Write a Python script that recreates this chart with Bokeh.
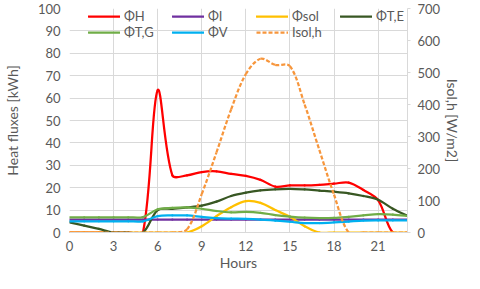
import math
from bokeh.plotting import figure
from bokeh.models import Range1d, LinearAxis, Legend, LegendItem, FixedTicker
from bokeh.embed import file_html
from bokeh.resources import INLINE

# ---- data (hourly values) ----
hours = list(range(24))
phi_H = [0, 0, 0, 0, 0, 0, 63.5, 25.5, 25.5, 27, 27.3, 26.2, 25.3, 23.5, 20.5, 21, 21, 21.3, 21.8, 22.3, 19, 14.5, 0, 0]
phi_I = [5.8, 5.8, 5.8, 5.8, 5.8, 5.8, 5.8, 5.8, 5.8, 5.8, 5.8, 5.8, 5.8, 5.8, 5.8, 5.8, 5.8, 5.8, 5.8, 5.8, 5.8, 5.8, 5.8, 5.8]
phi_sol = [0, 0, 0, 0, 0, 0, 0, 0, 0, 2.8, 7.3, 11.3, 14.0, 13.2, 10.0, 7.0, 2.8, 0, 0, 0, 0, 0, 0, 0]
phi_TE = [4.5, 3.1, 1.6, 0, 0, 0, 10, 10.6, 11.2, 12.0, 13.8, 16.3, 17.8, 18.8, 19.3, 19.5, 19.2, 18.7, 18.2, 17.5, 16.3, 14.6, 10.6, 7.4]
phi_TG = [6.8, 6.8, 6.8, 6.8, 6.8, 6.9, 10.4, 11.0, 11.2, 10.6, 9.6, 9.0, 9.2, 8.8, 7.8, 7.1, 6.6, 6.4, 6.5, 7.0, 7.6, 8.2, 8.0, 7.4]
phi_V = [5.0, 5.0, 5.0, 5.0, 5.0, 5.0, 7.3, 7.6, 7.6, 7.0, 6.4, 6.2, 6.1, 5.8, 5.3, 4.8, 4.2, 4.2, 4.5, 4.9, 5.3, 5.4, 5.4, 5.4]
isol_h = [0, 0, 0, 0, 0, 0, 0, 0, 10, 120, 250, 385, 495, 543, 524, 520, 400, 258, 118, 0, 0, 0, 0, 0]

x_ticks = [0, 3, 6, 9, 12, 15, 18, 21]
y_ticks = [0, 10, 20, 30, 40, 50, 60, 70, 80, 90, 100]
y2_ticks = [0, 100, 200, 300, 400, 500, 600, 700]

FONT = "Lato"
TXT = "#595959"
GRID = "#D9D9D9"

p = figure(width=464, height=273, output_backend="svg", toolbar_location=None,
           x_range=Range1d(0, 23), y_range=Range1d(0, 100),
           min_border_left=69, min_border_right=51, min_border_top=8, min_border_bottom=40)
p.extra_y_ranges = {"isol": Range1d(0, 700)}
p.outline_line_color = None
p.background_fill_color = "white"
p.border_fill_color = "white"

# grids
p.xgrid.ticker = FixedTicker(ticks=x_ticks)
p.ygrid.ticker = FixedTicker(ticks=y_ticks)
p.xgrid.grid_line_color = GRID
p.ygrid.grid_line_color = GRID

# axes
xa = p.xaxis[0]
xa.ticker = FixedTicker(ticks=x_ticks)
xa.axis_label = "Hours"
ya = p.yaxis[0]
ya.ticker = FixedTicker(ticks=y_ticks)
ya.axis_label = "Heat fluxes [kWh]"
ra = LinearAxis(y_range_name="isol", ticker=FixedTicker(ticks=y2_ticks), axis_label="Isol,h [W/m2]")
p.add_layout(ra, "right")

for ax in (xa, ya, ra):
    ax.major_label_text_font = FONT
    ax.major_label_text_font_size = "13px"
    ax.major_label_text_color = TXT
    ax.axis_label_text_font = FONT
    ax.axis_label_text_font_size = "14px"
    ax.axis_label_text_color = TXT
    ax.axis_label_text_font_style = "normal"
    ax.minor_tick_line_color = None
    ax.major_tick_in = 0

xa.major_tick_out = 0
xa.axis_line_color = GRID
xa.major_label_standoff = 8
xa.axis_label_standoff = 0

ya.major_tick_out = 0
ya.axis_line_color = None
ya.major_label_standoff = 9
ya.axis_label_standoff = 14

ra.major_tick_out = 3
ra.major_tick_line_color = GRID
ra.axis_line_color = GRID
ra.major_label_standoff = 7
ra.axis_label_standoff = 1

# approximate pixel scale of the frame, used only to shape the smoothed curves
PX_X = 345 / 23.0
FRAME_H = 225.0


def smooth_segments(xs, ys, px_y):
    """Bezier control points for a smoothed line (chord-length weighted, as Excel)."""
    n = len(xs)
    P = [(xs[i] * PX_X, ys[i] * px_y) for i in range(n)]
    L = [math.hypot(P[i + 1][0] - P[i][0], P[i + 1][1] - P[i][1]) for i in range(n - 1)]
    D = []
    for i in range(n):
        a = P[max(i - 1, 0)]
        b = P[min(i + 1, n - 1)]
        D.append((b[0] - a[0], b[1] - a[1]))
    seg = {k: [] for k in ("x0", "y0", "x1", "y1", "cx0", "cy0", "cx1", "cy1")}
    for i in range(n - 1):
        lp = L[i - 1] if i > 0 else L[i]
        ln = L[i + 1] if i + 1 < n - 1 else L[i]
        f0 = (L[i] / (lp + L[i]) / 3.0) if (lp + L[i]) > 0 else 0.0
        f1 = (L[i] / (L[i] + ln) / 3.0) if (L[i] + ln) > 0 else 0.0
        seg["x0"].append(xs[i]); seg["y0"].append(ys[i])
        seg["x1"].append(xs[i + 1]); seg["y1"].append(ys[i + 1])
        seg["cx0"].append((P[i][0] + D[i][0] * f0) / PX_X)
        seg["cy0"].append((P[i][1] + D[i][1] * f0) / px_y)
        seg["cx1"].append((P[i + 1][0] - D[i + 1][0] * f1) / PX_X)
        seg["cy1"].append((P[i + 1][1] - D[i + 1][1] * f1) / px_y)
    return seg


series = [
    ("ΦH", phi_H, "#FF0000", None, "default"),
    ("ΦI", phi_I, "#7030A0", None, "default"),
    ("Φsol", phi_sol, "#FFC000", None, "default"),
    ("ΦT,E", phi_TE, "#385723", None, "default"),
    ("ΦT,G", phi_TG, "#70AD47", None, "default"),
    ("ΦV", phi_V, "#00B0F0", None, "default"),
    ("Isol,h", isol_h, "#F7963C", "4 2", "isol"),
]

renderers = {}
LW = 2.25
for name, ys, color, dash, rng in series:
    px_y = FRAME_H / 700.0 if rng == "isol" else FRAME_H / 100.0
    seg = smooth_segments(hours, ys, px_y)
    kw = dict(line_color=color, line_width=LW, line_cap="round")
    if dash:
        kw["line_dash"] = dash
        kw["line_cap"] = "butt"
    if rng != "default":
        kw["y_range_name"] = rng
    renderers[name] = p.bezier(**seg, **kw)


def make_legend(names, loc):
    lg = Legend(items=[LegendItem(label=n, renderers=[renderers[n]], index=0) for n in names],
                location=loc, orientation="horizontal",
                padding=0, margin=0, spacing=2,
                glyph_width=32, glyph_height=16, label_height=16,
                label_width=46, label_standoff=4,
                label_text_font=FONT, label_text_font_size="13px",
                label_text_color=TXT,
                background_fill_alpha=0, border_line_alpha=0)
    p.add_layout(lg)


make_legend(["ΦH", "ΦI", "Φsol", "ΦT,E"], (19, 208))
make_legend(["ΦT,G", "ΦV", "Isol,h"], (19, 192))

open("out.html", "w").write(file_html(p, INLINE))
